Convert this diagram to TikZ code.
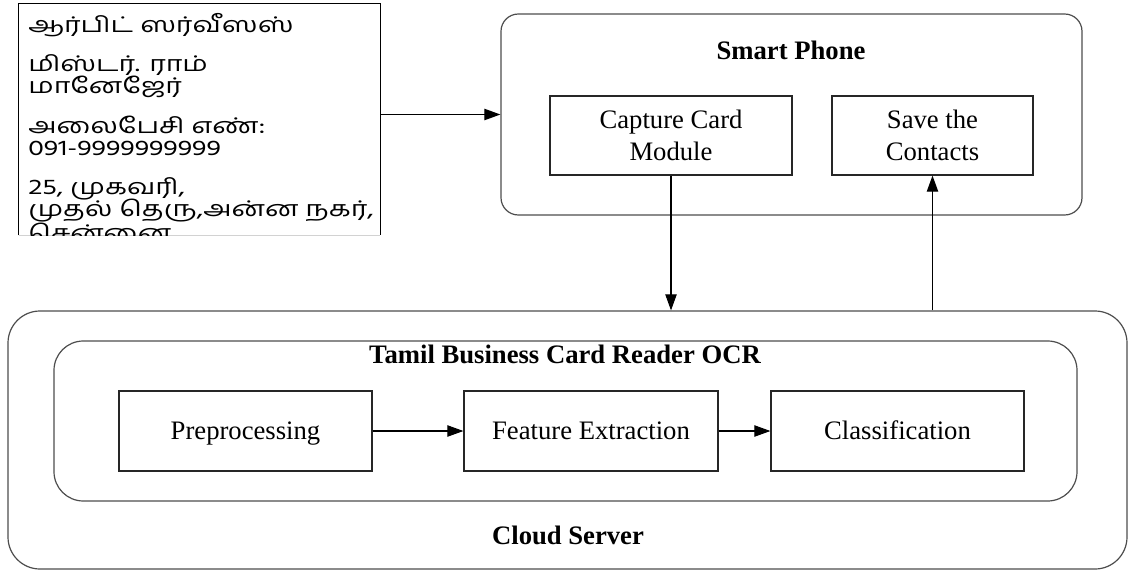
\documentclass[tikz,border=0pt]{standalone}
\usepackage{fontspec}
\setmainfont{Liberation Serif}
\newfontfamily\tamilfont[Script=Tamil, FakeStretch=1.32]{Hind Madurai}
\usetikzlibrary{arrows.meta, positioning, fit}
\definecolor{framegray}{HTML}{4D4D4D}

\begin{document}
\begin{tikzpicture}[x=0.75pt, y=-0.75pt,
    every node/.style={font=\fontsize{20}{24}\selectfont},
    container/.style={draw=framegray, line width=0.9pt, inner sep=0pt},
    box/.style={draw=black!85, line width=0.9pt, inner sep=0pt, align=center},
    onerow/.style={box, text height=13.2pt, text depth=0pt},
    title/.style={font=\bfseries\fontsize{20}{24}\selectfont, text height=13.2pt, text depth=0pt},
    arr/.style={-{Triangle[length=12pt,width=8.5pt]}, line width=0.8pt},
    cardline/.style={anchor=base west, inner sep=0pt,
      font=\tamilfont\fontsize{16.2}{16}\selectfont}]
  \useasboundingbox (0,0) rectangle (1129,571);

  % Business card
  \node[fit={(19,4) (380,235)}, inner sep=0pt] (card) {};
  \draw[line width=1.1pt] (card.south west) -- (card.north west) -- (card.north east) -- (card.south east);
  \draw[gray!35] (card.south west) -- (card.south east);
  \begin{scope}
    \clip (card.south west) rectangle (card.north east);
    \node[cardline] (c1) at (28,32) {ஆர்பிட் ஸர்வீஸஸ்};
    \node[cardline] (c2) at (28,71) {மிஸ்டர். ராம்};
    \node[cardline] (c3) at (28,93) {மானேஜேர்};
    \node[cardline] (c4) at (28,133) {அலைபேசி எண்:};
    \node[cardline] (c5) at (28,155) {091-9999999999};
    \node[cardline] (c6) at (28,194) {25, முகவரி,};
    \node[cardline] (c7) at (28,216) {முதல் தெரு,அன்ன நகர்,};
    \node[cardline] (c8) at (28,240) {சென்னை};
  \end{scope}

  % Smart phone
  \node[container, rounded corners=13pt, fit={(501,14) (1082,215)}] (phone) {};
  \node[title] (phonetitle) at (791,51) {Smart Phone};
  \node[box, minimum width=181.5pt, minimum height=59.25pt] (capture) at (671,135.5) {Capture Card\\Module};
  \node[box, minimum width=150.75pt, minimum height=59.25pt] (save) at (932.5,135.5) {Save the\\Contacts};

  % Cloud server
  \node[container, rounded corners=24pt, fit={(8,311) (1127,569)}] (cloud) {};
  \node[title] (cloudtitle) at (568,536) {Cloud Server};
  \node[container, rounded corners=22pt, fit={(54,341) (1077,501)}] (ocr) {};
  \node[title] (ocrtitle) at (565,355) {Tamil Business Card Reader OCR};
  \node[onerow, minimum width=189.75pt, minimum height=60pt] (pre) at (245.5,431) {Preprocessing};
  \node[onerow, minimum width=190.5pt, minimum height=60pt] (feat) at (591,431) {Feature Extraction};
  \node[onerow, minimum width=189.75pt, minimum height=60pt] (class) at (897.5,431) {Classification};

  % Connections
  \draw[arr] (card.east |- phone.west) -- (phone.west);
  \draw[arr] (capture) -- (capture |- cloud.north);
  \draw[arr] (save |- cloud.north) -- (save);
  \draw[arr] (pre) -- (feat);
  \draw[arr] (feat) -- (class);
\end{tikzpicture}
\end{document}
